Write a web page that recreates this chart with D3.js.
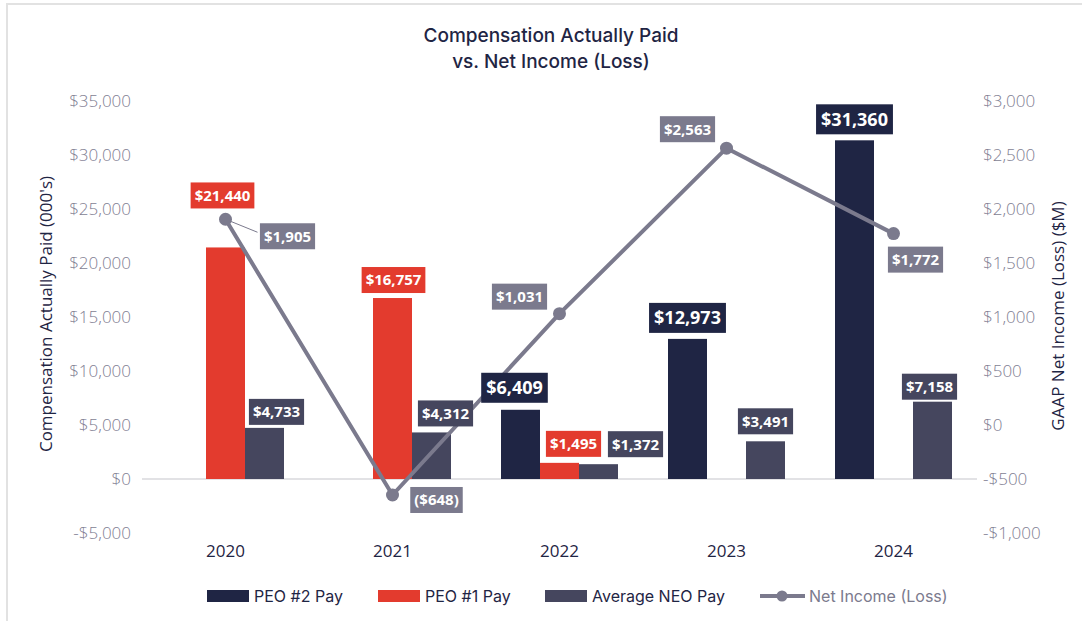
<!DOCTYPE html>
<meta charset="utf-8">
<title>Compensation Actually Paid vs. Net Income (Loss)</title>
<style>
body { margin: 0; background: #fff; }
svg { display: block; }
.tick text { fill: #7f7e92; font-family: "Open Sans", sans-serif; font-weight: 300; font-size: 17px; }
.lbl text { fill: #fff; font-family: "Open Sans", sans-serif; font-weight: 700; }
</style>
<body>
<script src="https://d3js.org/d3.v7.min.js"></script>
<script>

// data
var years = ["2020", "2021", "2022", "2023", "2024"];
var peo2Pay = [null, null, 6409, 12973, 31360];
var peo1Pay = [21440, 16757, 1495, null, null];
var neoPay = [4733, 4312, 1372, 3491, 7158];
var netIncome = [1905, -648, 1031, 2563, 1772];
var leftTicks = [-5000, 0, 5000, 10000, 15000, 20000, 25000, 30000, 35000];
var rightTicks = [-1000, -500, 0, 500, 1000, 1500, 2000, 2500, 3000];

// label nudges (box centre relative to bar top / point)
var barNudge = {
  peo2: [null, null, [-6, -22], [0, -21], [0, -21]],
  peo1: [[-3, -52], [1, -18], [14, -19], null, null],
  neo: [[12, -16], [14, -19], [37, -20], [0, -20], [-3, -15]]
};
var lineNudge = [[62, 17], [44, 5], [-40, -17], [-39, -19], [22, 26]];

var series = [
  {key: "peo2", name: "PEO #2 Pay", values: peo2Pay, color: "#1f2544", big: true},
  {key: "peo1", name: "PEO #1 Pay", values: peo1Pay, color: "#e33b2e", big: false},
  {key: "neo", name: "Average NEO Pay", values: neoPay, color: "#45465e", big: false}
];
var lineColor = "#7b7a8d";
var navy = "#1f2544";

var width = 1082, height = 621;
var plot = {left: 142, right: 977, top: 101, bottom: 533};

var svg = d3.select("body").append("svg")
  .attr("width", width)
  .attr("height", height);

// frame edges
svg.append("line").attr("x1", 6).attr("x2", width).attr("y1", 4).attr("y2", 4)
  .attr("stroke", "#e2e2e2").attr("stroke-width", 2);
svg.append("line").attr("x1", 7).attr("x2", 7).attr("y1", 3).attr("y2", height)
  .attr("stroke", "#e2e2e2").attr("stroke-width", 2);

// title
svg.append("text")
  .attr("x", 551).attr("y", 42)
  .attr("text-anchor", "middle")
  .style("font-family", "Inter, sans-serif").style("font-weight", 500)
  .style("font-size", "19px").style("fill", navy)
  .selectAll("tspan")
  .data(["Compensation Actually Paid", "vs. Net Income (Loss)"])
  .enter().append("tspan")
  .attr("x", 551).attr("dy", function(d, i) { return i ? 26 : 0; })
  .text(function(d) { return d; });

// scales
var x0 = d3.scaleBand().domain(years).range([plot.left, plot.right]);
var x1 = d3.scaleBand().domain(series.map(function(s) { return s.key; }))
  .range([25, x0.bandwidth() - 25]);
var yL = d3.scaleLinear().domain([-5000, 35000]).range([plot.bottom, plot.top]);
var yR = d3.scaleLinear().domain([-1000, 3000]).range([plot.bottom, plot.top]);

// axes
var fmtAxis = function(d) { return (d < 0 ? "-$" : "$") + d3.format(",")(Math.abs(d)); };

svg.append("g")
  .attr("transform", "translate(" + 131 + ",0)")
  .call(d3.axisLeft(yL).tickValues(leftTicks).tickSize(0).tickPadding(0).tickFormat(fmtAxis))
  .call(function(g) { g.select(".domain").remove(); });

svg.append("g")
  .attr("transform", "translate(" + 983 + ",0)")
  .call(d3.axisRight(yR).tickValues(rightTicks).tickSize(0).tickPadding(0).tickFormat(fmtAxis))
  .call(function(g) { g.select(".domain").remove(); });

// zero line
svg.append("line")
  .attr("x1", plot.left).attr("x2", plot.right)
  .attr("y1", yL(0)).attr("y2", yL(0))
  .attr("stroke", "#d8d8dd").attr("stroke-width", 1.5);

// year labels
svg.append("g").selectAll("text")
  .data(years)
  .enter().append("text")
  .attr("x", function(d) { return x0(d) + x0.bandwidth() / 2; })
  .attr("y", 557)
  .attr("text-anchor", "middle")
  .style("font-family", "'Open Sans', sans-serif").style("font-weight", 500)
  .style("font-size", "17px").style("fill", navy)
  .text(function(d) { return d; });

// axis titles
svg.append("text")
  .attr("transform", "translate(52,314) rotate(-90)")
  .attr("text-anchor", "middle")
  .style("font-family", "'Open Sans', sans-serif").style("font-size", "17px").style("fill", navy)
  .text("Compensation Actually Paid (000's)");
svg.append("text")
  .attr("transform", "translate(1064,316) rotate(-90)")
  .attr("text-anchor", "middle")
  .style("font-family", "'Open Sans', sans-serif").style("font-size", "17px").style("fill", navy)
  .text("GAAP Net Income (Loss) ($M)");

// bars
var barData = [];
series.forEach(function(s) {
  s.values.forEach(function(v, i) {
    if (v !== null) barData.push({s: s, year: years[i], value: v, i: i});
  });
});

svg.append("g").selectAll("rect")
  .data(barData)
  .enter().append("rect")
  .attr("x", function(d) { return x0(d.year) + x1(d.s.key); })
  .attr("width", x1.bandwidth())
  .attr("y", function(d) { return yL(d.value); })
  .attr("height", function(d) { return yL(0) - yL(d.value); })
  .attr("fill", function(d) { return d.s.color; });

// net income line
var cx = function(d, i) { return x0(years[i]) + x0.bandwidth() / 2; };
var line = d3.line()
  .x(cx)
  .y(function(d) { return yR(d); });

// leader for first point label
svg.append("line")
  .attr("x1", cx(null, 0)).attr("y1", yR(netIncome[0]))
  .attr("x2", cx(null, 0) + lineNudge[0][0] - 30).attr("y2", yR(netIncome[0]) + lineNudge[0][1] - 4)
  .attr("stroke", lineColor).attr("stroke-width", 1);

svg.append("path")
  .datum(netIncome)
  .attr("d", line)
  .attr("fill", "none")
  .attr("stroke", lineColor)
  .attr("stroke-width", 4);

svg.append("g").selectAll("circle")
  .data(netIncome)
  .enter().append("circle")
  .attr("cx", cx)
  .attr("cy", function(d) { return yR(d); })
  .attr("r", 6.5)
  .attr("fill", lineColor);

// value labels
function addLabel(cxv, cyv, text, fill, size, padX, h) {
  var g = svg.append("g").attr("class", "lbl");
  var rect = g.append("rect").attr("fill", fill);
  var t = g.append("text")
    .attr("x", cxv).attr("y", cyv)
    .attr("text-anchor", "middle")
    .attr("dy", "0.36em")
    .style("font-size", size + "px")
    .text(text);
  var w = t.node().getComputedTextLength() + padX * 2;
  rect.attr("x", cxv - w / 2).attr("y", cyv - h / 2).attr("width", w).attr("height", h);
}

var fmtVal = function(v) { return v < 0 ? "($" + d3.format(",")(-v) + ")" : "$" + d3.format(",")(v); };

barData.forEach(function(d) {
  var n = barNudge[d.s.key][d.i];
  var bx = x0(d.year) + x1(d.s.key) + x1.bandwidth() / 2;
  addLabel(bx + n[0], yL(d.value) + n[1], fmtVal(d.value), d.s.color,
    d.s.big ? 18 : 15, d.s.big ? 5 : 4, d.s.big ? 30 : 26);
});

netIncome.forEach(function(v, i) {
  var n = lineNudge[i];
  addLabel(cx(v, i) + n[0], yR(v) + n[1], fmtVal(v), lineColor, 15, 4, 26);
});

// legend
var legend = svg.append("g").attr("transform", "translate(0,596)");
var legendX = [207, 378, 545];
series.forEach(function(s, i) {
  legend.append("rect")
    .attr("x", legendX[i]).attr("y", -6)
    .attr("width", 42).attr("height", 12)
    .attr("fill", s.color);
  legend.append("text")
    .attr("x", legendX[i] + 47).attr("y", 0).attr("dy", "0.35em")
    .style("font-family", "Inter, sans-serif").style("font-size", "16px").style("fill", navy)
    .text(s.name);
});
legend.append("line")
  .attr("x1", 760).attr("x2", 805).attr("y1", 0).attr("y2", 0)
  .attr("stroke", lineColor).attr("stroke-width", 4);
legend.append("circle").attr("cx", 782).attr("cy", 0).attr("r", 5.5).attr("fill", lineColor);
legend.append("text")
  .attr("x", 809).attr("y", 0).attr("dy", "0.35em")
  .style("font-family", "Inter, sans-serif").style("font-size", "16px").style("fill", lineColor)
  .text("Net Income (Loss)");

</script>
</body>
